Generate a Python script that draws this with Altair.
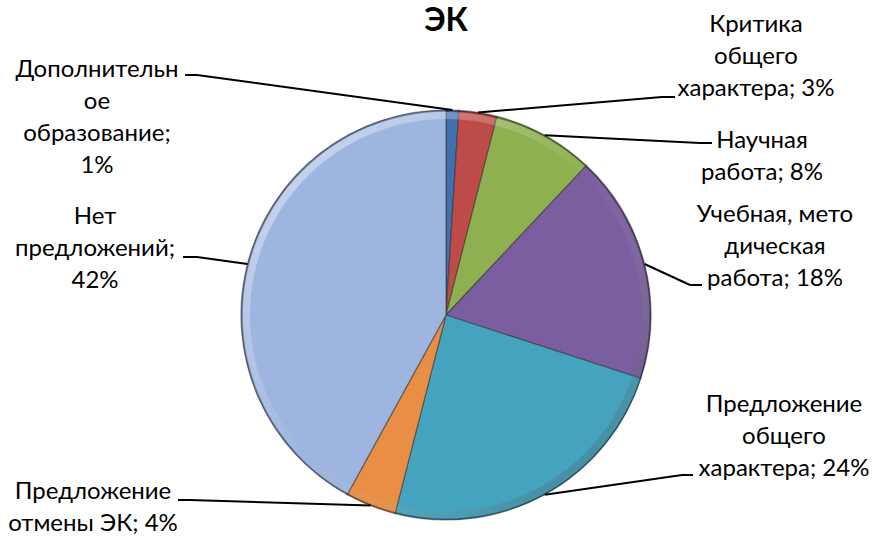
import altair as alt
import pandas as pd

# ---- data ----
categories = [
    "Дополнительное образование",
    "Критика общего характера",
    "Научная работа",
    "Учебная, методическая работа",
    "Предложение общего характера",
    "Предложение отмены ЭК",
    "Нет предложений",
]
values = [1, 3, 8, 18, 24, 4, 42]
label_text = [
    "Дополнительн\nое\nобразование;\n1%",
    "Критика\nобщего\nхарактера; 3%",
    "Научная\nработа; 8%",
    "Учебная, мето\nдическая\nработа; 18%",
    "Предложение\nобщего\nхарактера; 24%",
    "Предложение\nотмены ЭК; 4%",
    "Нет\nпредложений;\n42%",
]

# ---- styles ----
colors = ["#3f70b0", "#bd4b48", "#8fb050", "#7b5e9f", "#44a3bf", "#e98e45", "#9db5df"]

# ---- label layout (pixels relative to pie centre, y upward) ----
label_x = [-349, 310, 316, 329, 338, -353, -351]
label_y = [238, 283, 167, 93, -97, -184, 91]
elbow_x = [-249, 216, 254, 244, 236, -256, -249]
elbow_y = [240, 218, 172, 30, -160, -185, 58]
end_x = [-261, 229, 266, 256, 247, -268, -263]
end_y = [240, 218, 172, 30, -160, -185, 58]

R = 205
FONT = "Lato"

df = pd.DataFrame({
    "category": categories,
    "value": values,
    "label": label_text,
    "order": list(range(len(values))),
    "lx": label_x, "ly": label_y,
    "ex": elbow_x, "ey": elbow_y,
    "tx": end_x, "ty": end_y,
})

xs = alt.Scale(domain=[-446, 430], nice=False, zero=False)
ys = alt.Scale(domain=[-221, 275], nice=False, zero=False)

base = alt.Chart(df)

centre = dict(
    x=alt.XDatum(0, type="quantitative", scale=xs, axis=None),
    y=alt.YDatum(0, type="quantitative", scale=ys, axis=None),
)

pie = base.mark_arc(outerRadius=R, stroke="#2a2a2a", strokeWidth=1.2, strokeOpacity=0.5).encode(
    theta=alt.Theta("value:Q", stack=True),
    order=alt.Order("order:Q", sort="ascending"),
    color=alt.Color("category:N", scale=alt.Scale(domain=categories, range=colors), legend=None),
    **centre,
)

# bevel-like rim highlight / shadow
rim_gradient = alt.LinearGradient(
    gradient="linear", x1=0, y1=0, x2=1, y2=1,
    stops=[
        alt.GradientStop(color="rgba(255,255,255,0.55)", offset=0),
        alt.GradientStop(color="rgba(255,255,255,0.0)", offset=0.5),
        alt.GradientStop(color="rgba(0,0,0,0.35)", offset=1),
    ],
)
rim = alt.Chart(pd.DataFrame({"v": [1]})).mark_arc(
    innerRadius=R - 9, outerRadius=R - 2, theta=0, theta2=6.2832, fill=rim_gradient,
).encode(**centre)

edge = alt.Chart(pd.DataFrame({"v": [1]})).mark_arc(
    innerRadius=R - 1.5, outerRadius=R, theta=0, theta2=6.2832, fill="rgba(0,0,0,0.35)",
).encode(**centre)

leaders = base.transform_joinaggregate(
    total="sum(value)"
).transform_window(
    cum="sum(value)", sort=[alt.SortField("order")], frame=[None, 0]
).transform_calculate(
    mid="(datum.cum - datum.value / 2) / datum.total * 2 * PI",
    ax=f"{R} * sin(datum.mid)",
    ay=f"{R} * cos(datum.mid)",
)

seg1 = leaders.mark_rule(color="black", strokeWidth=2).encode(
    x=alt.X("ax:Q", scale=xs, axis=None),
    y=alt.Y("ay:Q", scale=ys, axis=None),
    x2="ex:Q",
    y2="ey:Q",
)
seg2 = base.mark_rule(color="black", strokeWidth=2).encode(
    x=alt.X("ex:Q", scale=xs, axis=None),
    y=alt.Y("ey:Q", scale=ys, axis=None),
    x2="tx:Q",
    y2="ty:Q",
)

labels = base.mark_text(
    font=FONT, fontSize=24, lineBreak="\n", lineHeight=32,
    align="center", baseline="alphabetic", color="black",
).encode(
    x=alt.X("lx:Q", scale=xs, axis=None),
    y=alt.Y("ly:Q", scale=ys, axis=None),
    text="label:N",
)

chart = alt.layer(pie, rim, edge, seg1, seg2, labels).properties(
    width=876,
    height=496,
    autosize=alt.AutoSizeParams(type="none"),
    padding={"left": 0, "right": 0, "top": 40, "bottom": 0},
    background="white",
    title=alt.TitleParams(
        "ЭК", font=FONT, fontSize=32, fontWeight="bold", color="black",
        anchor="middle", frame="group", dx=8, offset=-25,
    ),
).configure_view(stroke=None)

chart.save("out.html", embed_options={"renderer": "svg", "actions": False})
